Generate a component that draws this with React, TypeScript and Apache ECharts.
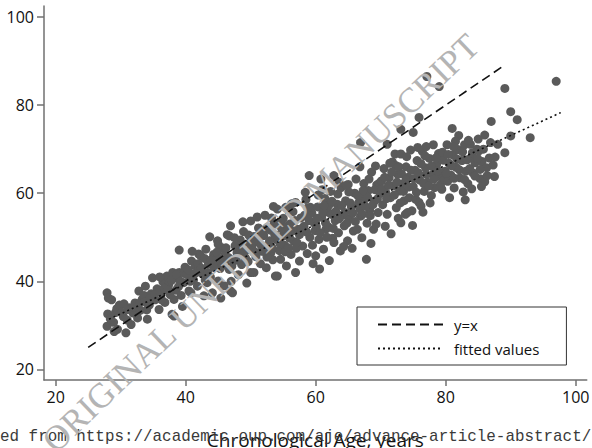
import React, { useEffect, useRef } from "react";
import * as echarts from "echarts";

const xTicks = [20, 40, 60, 80, 100];
const yTicks = [20, 40, 60, 80, 100];

// [chronological age, predicted age]
const age20s = [
  [27.9, 37.4], [28.1, 36.2], [28.0, 32.6], [27.9, 29.8], [28.6, 35.8], [28.9, 30.7],
  [29.2, 32.9], [29.5, 29.1], [29.4, 33.8], [28.4, 31.5], [29.8, 34.6], [29.0, 28.6],
];
const age30s = [
  [30.8, 28.3], [31.0, 31.2], [30.4, 32.0], [30.5, 34.9], [31.3, 34.0], [31.6, 30.2],
  [31.9, 32.8], [32.2, 35.1], [32.6, 31.7], [32.8, 37.8], [33.3, 35.9], [33.0, 33.4],
  [33.6, 36.8], [34.1, 31.4], [34.4, 34.6], [34.9, 40.8], [34.7, 37.2], [35.3, 35.8],
  [35.6, 38.3], [35.9, 33.6], [36.2, 37.4], [36.5, 39.9], [36.8, 35.2], [37.1, 41.2],
  [37.4, 39.3], [37.9, 32.5], [38.0, 42.0], [38.2, 35.9], [38.2, 32.1], [38.5, 38.0],
  [38.8, 40.6], [39.0, 42.0], [39.0, 47.1], [39.3, 36.8], [39.7, 39.7], [39.9, 43.2],
  [39.5, 34.3], [37.6, 37.0], [36.0, 41.0], [33.8, 38.9],
  [30.2, 33.0], [31.1, 33.6], [32.0, 34.2], [32.9, 35.0], [33.7, 35.4], [34.5, 36.1],
  [35.2, 37.0], [36.0, 37.8], [36.7, 38.4], [37.3, 38.0], [37.8, 40.2], [38.6, 41.5],
  [39.2, 40.0], [39.8, 41.8], [34.0, 33.5], [36.3, 35.8], [38.9, 38.8],
];
const age40s = [
  [40.2, 41.5], [40.5, 37.8], [40.8, 37.4], [40.9, 44.6], [41.2, 40.3], [41.5, 43.5],
  [41.8, 38.9], [42.0, 46.2], [42.3, 45.8], [42.5, 41.8], [42.8, 36.7], [43.1, 47.3],
  [43.3, 39.7], [43.5, 43.9], [43.8, 41.0], [44.1, 37.4], [44.3, 46.1], [44.6, 44.2],
  [44.9, 49.2], [45.0, 40.1], [45.3, 42.9], [45.6, 47.6], [45.9, 39.0], [46.1, 44.8],
  [46.4, 50.6], [46.7, 42.7], [46.7, 50.3], [46.9, 52.6], [46.9, 37.8], [47.2, 37.4],
  [47.4, 45.0], [47.6, 48.1], [47.9, 46.5], [48.1, 41.5], [48.4, 49.4], [48.6, 43.8],
  [48.9, 51.3], [49.1, 46.9], [49.4, 39.6], [49.6, 44.5], [49.8, 48.7], [42.0, 42.9],
  [44.0, 45.0], [46.0, 46.0], [48.0, 47.0], [41.0, 46.8], [43.7, 50.1], [45.4, 36.2],
  [47.0, 40.0], [48.8, 53.5],
  [40.4, 42.6], [40.7, 40.0], [41.4, 41.8], [41.9, 44.0], [42.4, 43.0], [42.9, 45.2],
  [43.4, 42.0], [43.9, 44.8], [44.4, 43.1], [44.8, 46.6], [45.2, 45.0], [45.7, 43.6],
  [46.2, 47.6], [46.6, 45.4], [47.1, 43.5], [47.5, 49.9], [47.8, 44.8], [48.3, 46.4],
  [48.7, 48.3], [49.2, 45.3], [49.7, 50.5], [49.9, 47.2], [43.0, 40.3], [45.0, 48.4],
];
const age50s = [
  [50.0, 53.7], [50.0, 42.0], [50.2, 47.5], [50.5, 42.0], [50.5, 50.2], [50.8, 45.6],
  [51.0, 48.9], [51.2, 52.1], [51.5, 44.0], [51.7, 46.8], [52.0, 50.4], [52.2, 55.0],
  [52.4, 43.1], [52.7, 48.3], [53.0, 51.6], [53.1, 46.5], [53.4, 44.9], [53.6, 53.2],
  [53.8, 41.2], [54.0, 49.5], [54.1, 56.4], [54.1, 41.2], [54.4, 47.0], [54.6, 45.0],
  [54.8, 51.9], [55.0, 54.3], [55.2, 48.2], [55.5, 43.5], [55.7, 50.7], [56.0, 53.0],
  [56.2, 46.1], [56.5, 55.8], [56.7, 49.0], [56.9, 57.9], [56.9, 42.0], [57.2, 51.8],
  [57.5, 44.6], [57.7, 54.4], [58.0, 48.0], [58.2, 52.5], [58.5, 58.6], [58.7, 46.3],
  [59.0, 64.0], [59.1, 50.0], [59.4, 55.5], [59.6, 44.0], [59.8, 53.2], [51.0, 54.6],
  [52.5, 45.5], [53.5, 57.0], [55.4, 56.8], [57.0, 47.5], [58.4, 60.2], [59.2, 56.8],
  [54.6, 53.3],
  [50.3, 49.0], [50.7, 46.6], [51.2, 50.5], [51.6, 48.2], [52.1, 46.8], [52.5, 52.2],
  [52.9, 49.2], [53.3, 47.6], [53.7, 50.6], [54.2, 52.8], [54.5, 48.6], [54.9, 50.2],
  [55.3, 46.7], [55.6, 52.5], [56.0, 49.8], [56.4, 51.4], [56.8, 53.8], [57.1, 48.8],
  [57.5, 50.6], [57.9, 52.0], [58.3, 55.0], [58.6, 51.2], [59.0, 53.8], [59.5, 48.2],
  [59.9, 51.5], [58.8, 56.7], [56.3, 57.6], [53.2, 54.4], [51.8, 50.9], [55.8, 47.6],
];
const age60s = [
  [60.0, 45.8], [60.1, 52.4], [60.3, 56.9], [60.5, 49.5], [60.8, 63.2], [60.9, 54.6],
  [61.2, 47.3], [61.4, 58.8], [61.6, 51.9], [61.9, 55.7], [62.1, 44.7], [62.3, 60.4],
  [62.6, 49.8], [62.8, 64.0], [62.8, 48.8], [63.0, 53.8], [63.3, 57.5], [63.5, 51.0],
  [63.8, 46.9], [63.9, 61.3], [64.1, 55.0], [64.4, 52.6], [64.6, 58.3], [64.9, 49.2],
  [65.0, 62.0], [65.2, 54.2], [65.5, 56.9], [65.8, 51.4], [66.0, 60.0], [66.2, 63.2],
  [66.4, 51.8], [66.6, 57.8], [66.9, 71.5], [66.9, 54.8], [67.1, 49.9], [67.4, 62.2],
  [67.6, 58.9], [67.9, 53.2], [68.1, 60.6], [68.3, 56.1], [68.6, 64.8], [68.9, 51.8],
  [69.0, 58.2], [69.2, 66.2], [69.4, 61.9], [69.6, 55.6], [69.9, 59.9], [61.0, 60.8],
  [62.0, 57.2], [63.6, 62.5], [64.3, 47.9], [65.6, 47.5], [66.8, 66.0], [67.8, 45.0],
  [68.5, 48.6], [69.3, 53.0], [60.6, 42.8], [61.7, 50.0],
  [60.2, 54.3], [60.7, 51.0], [61.1, 55.6], [61.5, 53.3], [61.9, 52.4], [62.4, 55.2],
  [62.7, 52.0], [63.1, 55.9], [63.6, 54.2], [64.0, 57.2], [64.5, 55.6], [64.8, 53.2],
  [65.3, 57.8], [65.7, 55.5], [66.1, 53.6], [66.5, 59.4], [66.8, 56.4], [67.2, 55.2],
  [67.6, 57.1], [68.0, 59.1], [68.4, 54.9], [68.8, 57.4], [69.1, 60.8], [69.5, 58.7],
  [69.8, 62.3], [63.4, 59.8], [65.1, 60.3], [67.3, 60.6], [61.3, 57.2], [60.4, 59.6],
  [62.5, 58.2], [64.7, 61.8], [68.2, 63.2],
];
const age70s = [
  [70.1, 62.8], [70.3, 57.4], [70.5, 65.6], [70.8, 60.1], [71.0, 71.1], [71.0, 55.2],
  [71.3, 63.5], [71.5, 59.0], [71.8, 67.1], [72.0, 61.7], [72.2, 68.9], [72.4, 56.7],
  [72.6, 64.3], [72.9, 60.5], [73.1, 74.5], [73.1, 68.9], [73.1, 53.3], [73.3, 62.1],
  [73.6, 58.3], [73.8, 55.2], [73.9, 66.0], [74.1, 55.6], [74.2, 63.6], [74.4, 59.0],
  [74.6, 69.8], [74.9, 52.7], [75.0, 73.8], [75.0, 61.5], [75.3, 65.2], [75.4, 58.6],
  [75.6, 67.4], [75.9, 77.2], [75.9, 57.9], [76.0, 63.0], [76.2, 57.1], [76.4, 69.5],
  [76.7, 60.4], [76.9, 65.8], [77.1, 86.5], [77.2, 62.5], [77.5, 67.9], [77.8, 59.5],
  [78.0, 64.2], [78.1, 71.0], [78.3, 61.3], [78.6, 66.5], [78.9, 69.0], [79.0, 84.2],
  [79.1, 63.8], [79.4, 60.9], [79.6, 67.5], [79.9, 65.0], [70.7, 52.5], [71.6, 50.8],
  [72.7, 54.3], [74.8, 56.0], [76.5, 55.7], [77.6, 57.8], [72.3, 66.3], [77.0, 70.6],
  [70.2, 60.9], [70.6, 63.6], [70.9, 58.8], [71.2, 61.8], [71.7, 64.8], [72.1, 59.6],
  [72.5, 62.5], [72.8, 66.0], [73.2, 64.4], [73.5, 60.4], [73.9, 63.0], [74.3, 61.4],
  [74.7, 65.2], [75.1, 63.3], [75.5, 60.2], [75.8, 64.6], [76.2, 66.7], [76.6, 62.2],
  [77.0, 64.3], [77.4, 61.7], [77.8, 66.1], [78.2, 63.2], [78.5, 68.0], [78.8, 65.1],
  [79.2, 61.9], [79.5, 69.3], [79.8, 63.1], [71.4, 66.8], [74.0, 68.3], [76.8, 68.5],
  [73.0, 57.8], [75.7, 70.4],
];
const age80s = [
  [80.2, 71.0], [80.3, 62.7], [80.5, 66.8], [80.8, 64.1], [81.0, 74.7], [81.1, 68.7],
  [81.3, 61.2], [81.6, 65.9], [81.9, 69.9], [82.0, 73.1], [82.2, 63.5], [82.5, 67.4],
  [82.7, 60.3], [82.9, 71.0], [83.1, 65.0], [83.4, 62.2], [83.8, 71.1], [83.9, 68.1],
  [84.2, 64.6], [84.5, 66.9], [84.8, 70.0], [85.1, 69.6], [85.3, 63.3], [85.6, 67.2],
  [86.0, 73.2], [86.0, 62.6], [86.3, 65.8], [86.7, 68.0], [87.0, 76.3], [87.3, 66.4],
  [88.0, 71.1], [89.1, 83.8], [89.1, 69.2], [80.6, 59.0], [81.5, 71.8], [83.0, 58.5],
  [84.0, 61.0], [85.0, 72.3], [87.5, 63.8],
  [80.1, 64.5], [80.4, 68.8], [80.9, 66.2], [81.3, 63.4], [81.7, 67.8], [82.1, 65.3],
  [82.6, 69.4], [82.9, 63.1], [83.3, 67.6], [83.7, 65.6], [84.1, 69.2], [84.5, 63.9],
  [84.9, 67.9], [85.3, 65.4], [85.8, 70.0], [86.4, 64.0], [86.9, 71.5], [87.6, 68.2],
  [81.2, 70.6], [83.5, 72.0], [85.5, 61.5],
];
const age90s = [
  [90.0, 78.5], [90.0, 73.0], [91.0, 76.7], [93.0, 72.6], [97.0, 85.4],
];

const identityLine = [[25.0, 25.0], [88.6, 88.6]];
const fittedLine = [[28.2, 31.4], [97.7, 78.3]];
const seriesNames = ["y=x", "fitted values"];
const xTitle = "Chronological Age, years";
const watermark = "ORIGINAL UNEDITED MANUSCRIPT";
const downloadNote =
  "Downloaded from https://academic.oup.com/aje/advance-article-abstract/";

const SANS = "'Open Sans', 'Noto Sans', sans-serif";

export default function App() {
  const ref = useRef<HTMLDivElement>(null);
  useEffect(() => {
    if (!ref.current) return;
    const chart = echarts.init(ref.current, undefined, { renderer: "svg" });
    const points = [
      ...age20s, ...age30s, ...age40s, ...age50s,
      ...age60s, ...age70s, ...age80s, ...age90s,
    ];
    const axisColor = "#707070";
    chart.setOption({
      animation: false,
      backgroundColor: "#ffffff",
      grid: {
        left: 44, top: 6, width: 542.75, height: 374,
        containLabel: false, outerBoundsMode: "none",
      },
      xAxis: {
        type: "value", min: 18.2, max: 101.7,
        axisLine: { show: true, lineStyle: { color: axisColor, width: 1.5 } },
        axisTick: { show: true, customValues: xTicks, length: 6, lineStyle: { color: axisColor, width: 1.5 } },
        axisLabel: { customValues: xTicks, fontSize: 16, fontFamily: SANS, color: "#111", margin: 9 },
        splitLine: { show: false },
        name: xTitle, nameLocation: "middle", nameGap: 50,
        nameTextStyle: { fontSize: 19, fontFamily: SANS, color: "#111" },
      },
      yAxis: {
        type: "value", min: 17.6, max: 102.5,
        axisLine: { show: true, lineStyle: { color: axisColor, width: 1.5 } },
        axisTick: { show: true, customValues: yTicks, length: 7, lineStyle: { color: axisColor, width: 1.5 } },
        axisLabel: { customValues: yTicks, fontSize: 16, fontFamily: SANS, color: "#111", margin: 10 },
        splitLine: { show: false },
      },
      legend: {
        data: seriesNames,
        orient: "vertical",
        left: 357, top: 307,
        padding: [10, 27, 9, 20],
        itemWidth: 65, itemHeight: 14, itemGap: 9,
        borderColor: "#333", borderWidth: 1,
        itemStyle: { opacity: 0 },
        textStyle: { fontSize: 15, fontFamily: SANS, color: "#111", padding: [0, 0, 0, 6] },
      },
      series: [
        {
          type: "scatter", data: points, symbolSize: 9, silent: true,
          itemStyle: { color: "#5a5a5a", opacity: 1 },
        },
        {
          name: seriesNames[0], type: "line", data: identityLine, symbol: "none", z: 5,
          lineStyle: { color: "#111", width: 1.6, type: [9, 5] },
        },
        {
          name: seriesNames[1], type: "line", data: fittedLine, symbol: "none", z: 5,
          lineStyle: { color: "#111", width: 1.6, type: [2, 3] },
        },
      ],
      graphic: [
        {
          type: "text", x: -76.3, y: 437, z: 1,
          style: {
            text: downloadNote, font: "15.9px 'Liberation Mono', monospace",
            fill: "#3a3a3a", textAlign: "left", textVerticalAlign: "middle",
          },
        },
        {
          type: "text", x: 48, y: 446, rotation: 0.761, z: 100,
          style: {
            text: watermark, font: "35px 'Liberation Serif', serif",
            fill: "#b4b4b4", textAlign: "left", textVerticalAlign: "middle",
          },
        },
      ],
    });
    return () => chart.dispose();
  }, []);
  return (
    <div
      ref={ref}
      style={{ position: "fixed", left: 0, top: 0, width: 592, height: 448 }}
    />
  );
}
